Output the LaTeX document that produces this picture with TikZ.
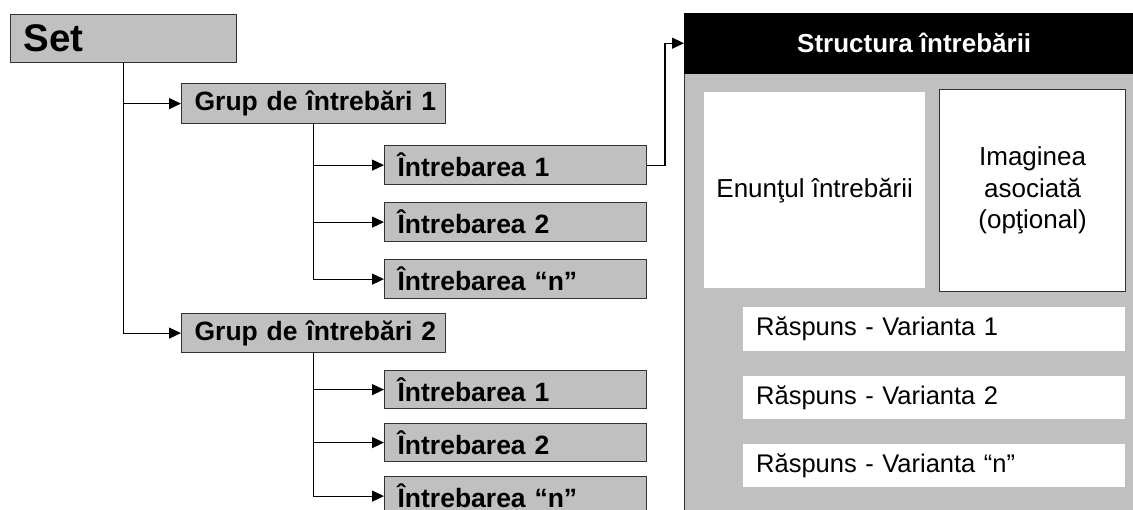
\documentclass[tikz,border=0pt]{standalone}
\usepackage{fontspec}
\setmainfont{Liberation Sans}
\usetikzlibrary{arrows.meta}
\definecolor{boxgray}{RGB}{192,192,192}
\definecolor{edge}{RGB}{50,50,50}
\tikzset{
  lbox/.style 2 args={draw=edge, line width=1.2pt, fill=boxgray, anchor=north west,
    inner xsep=4pt, inner ysep=0pt, text width=#1-8pt, minimum height=#2,
    align=left, execute at begin node=\hspace*{9pt},
    font=\bfseries\fontsize{26.5}{29}\selectfont},
  wbox/.style 2 args={fill=white, anchor=north west, inner xsep=13pt, inner ysep=0pt,
    text width=#1-26pt, minimum height=#2, align=left, font=\fontsize{25.5}{28}\selectfont},
  conn/.style={draw=black, line width=1.2pt},
  arr/.style={conn, -{Triangle[length=12pt,width=11pt]}},
}
\begin{document}
\begin{tikzpicture}[x=1pt,y=-1pt]
\useasboundingbox (0,0) rectangle (1133,509);
\clip (0,0) rectangle (1133,509);
% left tree
\node[lbox={226pt}{48pt}, font=\bfseries\fontsize{38.5}{40}\selectfont] (set) at (10,14) {Set};
\node[lbox={264pt}{40pt}] (g1) at (181,83) {Grup de întrebări 1};
\node[lbox={262pt}{39pt}] (q11) at (384,145) {Întrebarea 1};
\node[lbox={262pt}{39pt}] (q12) at (384,202) {Întrebarea 2};
\node[lbox={262pt}{39pt}] (q1n) at (384,259) {Întrebarea “n”};
\node[lbox={264pt}{39pt}] (g2) at (181,313) {Grup de întrebări 2};
\node[lbox={262pt}{38pt}] (q21) at (384,370) {Întrebarea 1};
\node[lbox={262pt}{38pt}] (q22) at (384,423) {Întrebarea 2};
\node[lbox={262pt}{39pt}] (q2n) at (384,476) {Întrebarea “n”};
\draw[arr] (set.south) |- (g2.west);
\draw[arr] (set.south) |- (g1.west);
\draw[arr] (g1.south) |- (q1n.west);
\draw[arr] (g1.south) |- (q12.west);
\draw[arr] (g1.south) |- (q11.west);
\draw[arr] (g2.south) |- (q2n.west);
\draw[arr] (g2.south) |- (q22.west);
\draw[arr] (g2.south) |- (q21.west);
% structure panel
\node[draw=edge, line width=1.2pt, fill=boxgray, anchor=north west, minimum width=460pt, minimum height=450pt, inner sep=0pt] (body) at (684,73) {};
\node[fill=black, draw=black, anchor=north west, minimum width=460pt, minimum height=60pt, inner sep=0pt, text=white, font=\bfseries\fontsize{26}{28}\selectfont] (hdr) at (684,13) {Structura întrebării};
\node[fill=white, anchor=north west, minimum width=221pt, minimum height=196pt, inner sep=0pt, font=\fontsize{26}{28}\selectfont] (enunt) at (704,92) {Enunţul întrebării};
\node[fill=white, draw=edge, line width=1.2pt, anchor=north west, minimum width=186pt, minimum height=202pt, inner sep=0pt, align=center, font=\fontsize{26}{31.5}\selectfont] (img) at (939,89) {Imaginea\\asociată\\(opţional)};
\node[wbox={382pt}{44pt}] (r1) at (743,307) {Răspuns - Varianta 1};
\node[wbox={382pt}{43pt}] (r2) at (743,376) {Răspuns - Varianta 2};
\node[wbox={382pt}{43pt}] (rn) at (743,444) {Răspuns - Varianta “n”};
\coordinate (turn) at (665,0);
\draw[arr] (q11.east) -- (q11.east -| turn) |- (hdr.west);
\end{tikzpicture}
\end{document}
